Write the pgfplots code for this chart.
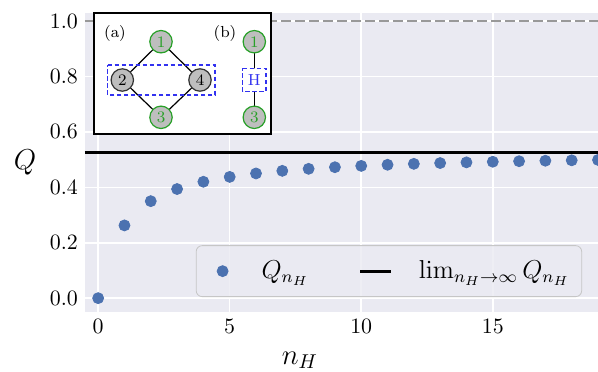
\documentclass[border=0pt]{standalone}
\usepackage{graphicx}
\usepackage{pgfplots}
\pgfplotsset{compat=1.18}
\definecolor{bgc}{HTML}{EAEAF2}
\definecolor{sblue}{HTML}{4C72B0}
\definecolor{dgray}{HTML}{999999}
\definecolor{ngreen}{RGB}{40,160,40}
\definecolor{ngray}{HTML}{BEBEBE}
\definecolor{bblue}{RGB}{50,50,240}
\begin{document}
\begin{tikzpicture}
\useasboundingbox (-42.5pt,-29.5pt) rectangle (256.5pt,156pt);
\begin{axis}[
  at={(0pt,0pt)}, anchor=south west,
  width=256.5pt, height=149.65pt, scale only axis,
  xmin=-0.5, xmax=19, ymin=-0.05, ymax=1.03,
  axis background/.style={fill=bgc},
  axis line style={draw=none},
  major tick length=0pt,
  grid=major, grid style={white, line width=0.8pt},
  xtick={0,5,10,15}, ytick={0,0.2,0.4,0.6,0.8,1.0},
  yticklabel style={/pgf/number format/.cd, fixed, fixed zerofill, precision=1},
  tick label style={font=\fontsize{11}{13}\selectfont},
  xlabel={$n_H$}, ylabel={$Q$},
  label style={font=\Large},
  ylabel style={rotate=-90, at={(axis description cs:0,0.5)}, anchor=center, xshift=-30pt},
  xlabel style={at={(axis description cs:0.419,0)}, anchor=center, yshift=-24pt},
  legend columns=2,
  legend style={at={(axis description cs:0.969,0.05)}, anchor=south east,
    fill=bgc, fill opacity=0.8, text opacity=1, draw=gray!45, rounded corners=3pt,
    font=\fontsize{12}{14}\selectfont, inner xsep=4pt, inner ysep=5.5pt},
  /tikz/every even column/.append style={column sep=23pt},
]
\addplot[dgray, line width=1.3pt, dash pattern=on 5pt off 2pt, forget plot] coordinates {(-0.5,1) (19,1)};
\addplot[only marks, mark=*, mark size=2.75pt, sblue, mark options={draw=sblue, fill=sblue},
  legend image code/.code={\path (-9pt,0pt) (2.75pt,0pt); \fill[sblue, fill opacity=1] (0pt,0pt) circle[radius=2.75pt];}] coordinates {
(0,0) (1,0.2625) (2,0.35) (3,0.39375) (4,0.42) (5,0.4375) (6,0.45) (7,0.459375)
(8,0.466667) (9,0.4725) (10,0.477273) (11,0.48125) (12,0.484615) (13,0.4875)
(14,0.49) (15,0.492188) (16,0.494118) (17,0.495833) (18,0.497368) (19,0.49875)};
\addlegendentry{\hspace*{14.5pt}\scalebox{1.08}{$Q_{n_H}$}}
\addplot[black, line width=1.5pt,
  legend image code/.code={\draw[black, line width=1.5pt] (0pt,0pt) -- (15.5pt,0pt);}] coordinates {(-0.5,0.525) (19,0.525)};
\addlegendentry{\hspace*{11pt}\scalebox{1.08}{$\lim_{n_H\rightarrow\infty} Q_{n_H}$}}
\end{axis}
\begin{axis}[
  at={(4.5pt,89pt)}, anchor=south west,
  width=88.5pt, height=60.5pt, scale only axis,
  xmin=94, xmax=271, ymin=13, ymax=134, y dir=reverse,
  xtick=\empty, ytick=\empty,
  axis line style={black, line width=0.6pt},
  axis background/.style={fill=white},
  clip=false,
]
\addplot[black, line width=0.6pt] coordinates {(122.3,80) (161,41.7) (200,80) (161,117.3) (122.3,80)};
\addplot[bblue, line width=0.6pt, dash pattern=on 2.2pt off 1.3pt] coordinates {(107.7,65) (215,65) (215,95) (107.7,95) (107.7,65)};
\addplot[black, line width=0.6pt] coordinates {(254.3,41.7) (254.3,117.3)};
\addplot[bblue, line width=0.6pt, dash pattern=on 2.2pt off 1.3pt, fill=white] coordinates {(242.7,68.3) (266,68.3) (266,91.7) (242.7,91.7) (242.7,68.3)};
\addplot[only marks, mark=*, mark size=5.6pt, mark options={draw=ngreen, fill=ngray, line width=0.6pt},
  nodes near coords, point meta=explicit symbolic,
  every node near coord/.style={anchor=center, font=\footnotesize, text=ngreen}]
  table[meta=l, row sep=\\] {x y l\\ 161 41.7 1\\ 161 117.3 3\\ 254.3 41.7 1\\ 254.3 117.3 3\\};
\addplot[only marks, mark=*, mark size=5.6pt, mark options={draw=black!80, fill=ngray, line width=0.6pt},
  nodes near coords, point meta=explicit symbolic,
  every node near coord/.style={anchor=center, font=\footnotesize, text=black}]
  table[meta=l, row sep=\\] {x y l\\ 122.3 80 2\\ 200 80 4\\};
\node[font=\footnotesize] at (axis cs:115,33) {(a)};
\node[font=\footnotesize] at (axis cs:225,33) {(b)};
\node[font=\footnotesize, text=bblue] at (axis cs:254.3,80) {H};
\end{axis}
\end{tikzpicture}
\end{document}
